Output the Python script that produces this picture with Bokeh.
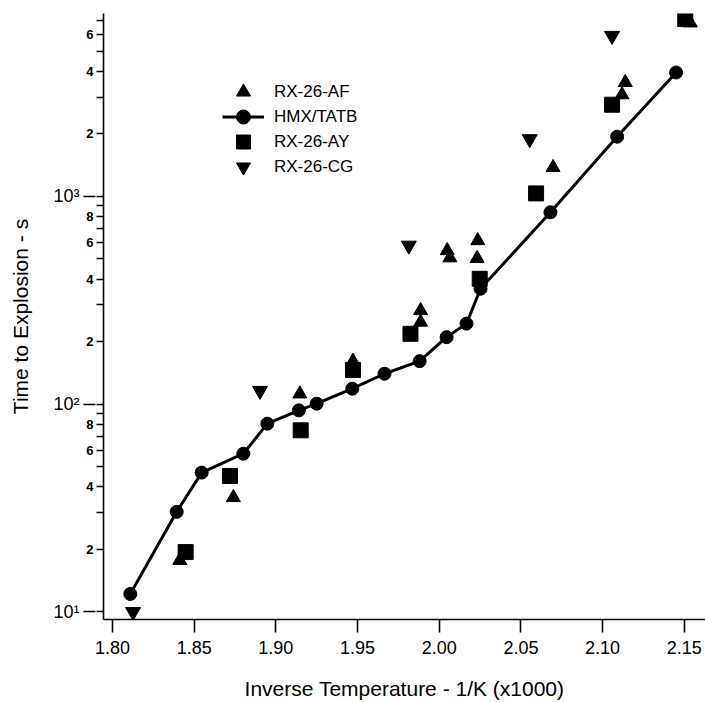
from bokeh.plotting import figure
from bokeh.models import (Range1d, FixedTicker, Legend, LegendItem, LogAxis)
from bokeh.embed import file_html
from bokeh.resources import INLINE

# ---------------- data ----------------
hmx_x = [1.8109, 1.8393, 1.8546, 1.8801, 1.8948, 1.9141, 1.9250, 1.9468,
         1.9665, 1.9880, 2.0045, 2.0167, 2.0253, 2.0681, 2.1089, 2.1450]
hmx_y = [12.2, 30.3, 46.8, 57.7, 80.5, 93.3, 100.5, 118.6,
         140, 161, 210, 244, 359, 838, 1937, 3945]

af_x = [1.8412, 1.8740, 1.9147, 1.9472, 1.9886, 1.9886, 2.0049, 2.0065,
        2.0236, 2.0232, 2.0697, 2.1139, 2.1119, 2.1537]
af_y = [17.7, 35.5, 112, 161, 282, 248, 548, 506,
        612, 503, 1377, 3532, 3083, 6840]

ay_x = [1.8448, 1.8719, 1.9152, 1.9472, 1.9824, 2.0248, 2.0593, 2.1058, 2.1506]
ay_y = [19.4, 45.1, 74.8, 146, 218, 401, 1033, 2761, 7129]

cg_x = [1.8126, 1.8903, 1.9814, 2.0554, 2.1058]
cg_y = [10.0, 116, 580, 1888, 5930]

x_ticks = [1.80, 1.85, 1.90, 1.95, 2.00, 2.05, 2.10, 2.15]
x_tick_labels = ["1.80", "1.85", "1.90", "1.95", "2.00", "2.05", "2.10", "2.15"]

y_major = [10, 100, 1000]
y_major_labels = ["10\u00b9", "10\u00b2", "10\u00b3"]
y_minor_labeled = [20, 40, 60, 80, 200, 400, 600, 800, 2000, 4000, 6000]
y_minor_labels = ["2", "4", "6", "8", "2", "4", "6", "8", "2", "4", "6"]
y_minor_plain = [30, 50, 70, 90, 300, 500, 700, 900, 3000, 5000, 7000]

series_names = ["RX-26-AF", "HMX/TATB", "RX-26-AY", "RX-26-CG"]

# ---------------- figure ----------------
X0, X1 = 1.7945, 2.163
Y0, Y1 = 9.19, 7586
FONT = "Liberation Sans"

p = figure(width=705, height=702, x_range=Range1d(X0, X1), y_range=Range1d(Y0, Y1),
           y_axis_type="log", y_axis_location=None,
           output_backend="svg", toolbar_location=None,
           min_border_left=103, min_border_right=0, min_border_top=13,
           min_border_bottom=83)
p.outline_line_color = None
p.xgrid.visible = False
p.ygrid.visible = False
p.background_fill_color = "white"

r_line = p.line(hmx_x, hmx_y, line_width=3, line_color="black")
r_circ = p.scatter(hmx_x, hmx_y, marker="circle", size=13, color="black")
r_af = p.scatter(af_x, af_y, marker="triangle", size=14, color="black")
r_ay = p.scatter(ay_x, ay_y, marker="square", size=15, color="black")
r_cg = p.scatter(cg_x, cg_y, marker="inverted_triangle", size=15, color="black")

# x axis
xa = p.xaxis[0]
xa.ticker = FixedTicker(ticks=x_ticks, minor_ticks=[])
xa.major_label_overrides = dict(zip(x_ticks, x_tick_labels))
xa.major_tick_out = 13
xa.major_tick_in = 0
xa.minor_tick_out = 0
xa.minor_tick_in = 0
xa.axis_line_width = 1.6
xa.axis_line_color = "black"
xa.major_tick_line_width = 1.6
xa.major_tick_line_color = "black"
xa.major_label_standoff = 8
xa.major_label_text_font = FONT
xa.major_label_text_font_size = "18px"
xa.major_label_text_color = "black"
xa.axis_label = "Inverse Temperature - 1/K (x1000)"
xa.axis_label_text_font = FONT
xa.axis_label_text_font_size = "21px"
xa.axis_label_text_font_style = "normal"
xa.axis_label_text_color = "black"
xa.axis_label_standoff = 20

# inner y axis (next to the frame): axis line, all ticks, labels 2,4,6,8
inner_ticks = y_major + y_minor_labeled
inner_labels = [" "] * len(y_major) + y_minor_labels
yb = LogAxis(ticker=FixedTicker(ticks=inner_ticks, minor_ticks=y_minor_plain))
yb.major_label_overrides = dict(zip(inner_ticks, inner_labels))
yb.axis_line_color = "black"
yb.axis_line_width = 1.6
yb.major_tick_out = 7
yb.major_tick_in = 0
yb.minor_tick_out = 7
yb.minor_tick_in = 0
yb.major_tick_line_width = 1.6
yb.minor_tick_line_width = 1.6
yb.major_tick_line_color = "black"
yb.minor_tick_line_color = "black"
yb.major_label_standoff = 3
yb.major_label_text_font = FONT
yb.major_label_text_font_size = "13px"
yb.major_label_text_font_style = "bold"
yb.major_label_text_color = "black"
p.add_layout(yb, "left")

# outer y axis: decade labels, their long ticks, and the title
ya = LogAxis(ticker=FixedTicker(ticks=y_major, minor_ticks=[]))
ya.major_label_overrides = dict(zip(y_major, y_major_labels))
ya.axis_line_color = None
ya.major_tick_out = 0
ya.major_tick_in = 12
ya.minor_tick_line_color = None
ya.major_tick_line_width = 1.6
ya.major_tick_line_color = "black"
ya.major_label_standoff = 4
ya.major_label_text_font = FONT
ya.major_label_text_font_size = "18px"
ya.major_label_text_color = "black"
ya.axis_label = "Time to Explosion - s"
ya.axis_label_text_font = FONT
ya.axis_label_text_font_size = "21px"
ya.axis_label_text_font_style = "normal"
ya.axis_label_text_color = "black"
ya.axis_label_standoff = 18
p.add_layout(ya, "left")

# legend: one legend per row so rows can sit closer than the marker box
renderers = [[r_af], [r_line, r_circ], [r_ay], [r_cg]]
row_y = [510, 485, 460, 435]
for name, rs, ly in zip(series_names, renderers, row_y):
    lg = Legend(items=[LegendItem(label=name, renderers=rs)], location=(119, ly),
                glyph_width=42, glyph_height=35, spacing=0, label_standoff=10,
                padding=0, margin=0, border_line_color=None,
                background_fill_alpha=0, label_text_font=FONT,
                label_text_font_size="17px", label_text_color="black",
                label_height=20)
    p.add_layout(lg)

open("out.html", "w").write(file_html(p, INLINE))
